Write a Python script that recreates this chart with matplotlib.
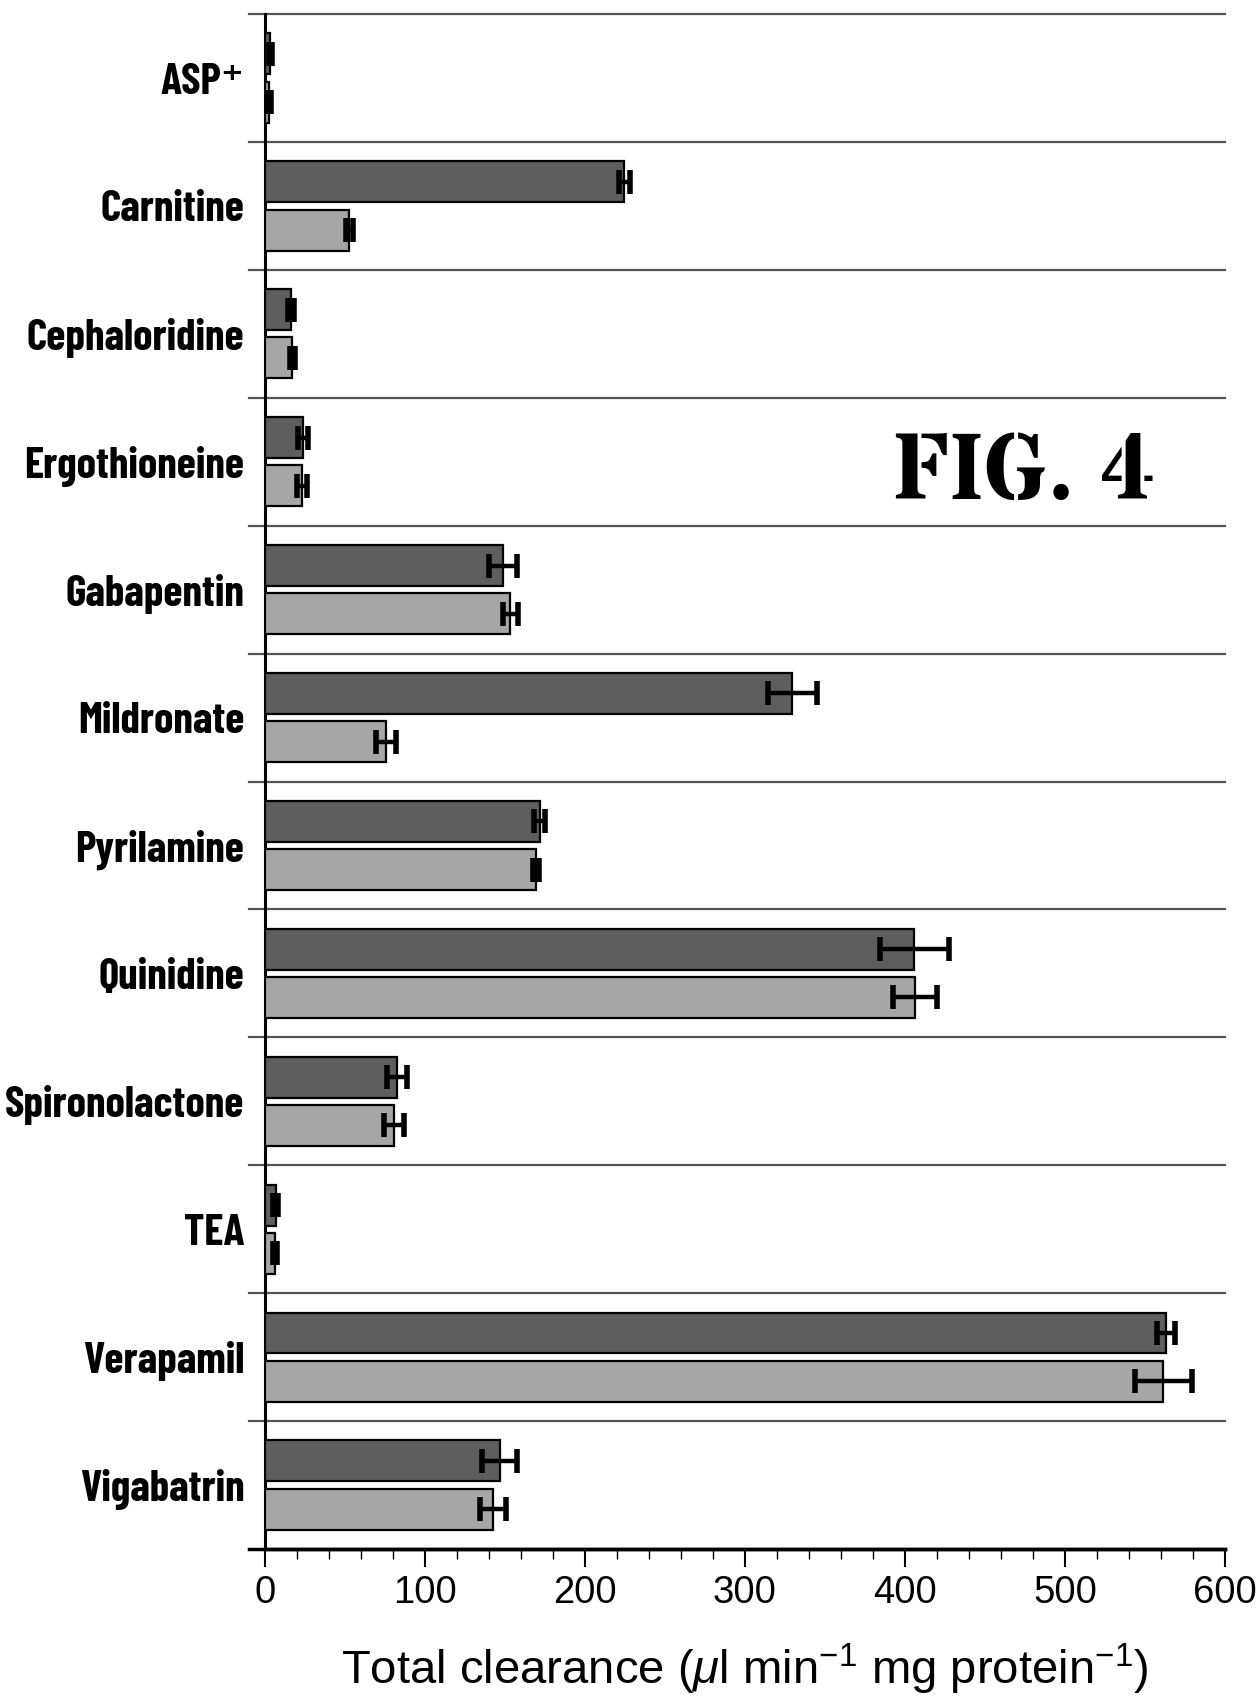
import matplotlib
matplotlib.use("Agg")
import matplotlib.pyplot as plt
import numpy as np

# data
compounds = ["ASP\u207a", "Carnitine", "Cephaloridine", "Ergothioneine", "Gabapentin",
             "Mildronate", "Pyrilamine", "Quinidine", "Spironolactone", "TEA",
             "Verapamil", "Vigabatrin"]
dark_vals = [3.4, 224.5, 16.2, 23.7, 148.5, 329.5, 171.6, 405.8, 82.5, 6.8, 563.3, 146.6]
dark_err = [1.2, 3.5, 2.0, 3.0, 8.8, 15.4, 3.3, 21.6, 6.0, 1.5, 5.5, 10.7]
light_vals = [2.5, 52.8, 17.0, 23.0, 153.4, 75.6, 169.4, 406.0, 80.5, 6.2, 561.4, 142.6]
light_err = [1.0, 2.0, 1.5, 3.0, 4.9, 6.0, 2.0, 13.8, 6.2, 1.2, 17.7, 8.0]
xticks = [0, 100, 200, 300, 400, 500, 600]

plt.rcParams["font.family"] = ["Liberation Sans", "DejaVu Sans"]
plt.rcParams["mathtext.fontset"] = "custom"
plt.rcParams["mathtext.rm"] = "Liberation Sans"
plt.rcParams["mathtext.it"] = "Liberation Sans:italic"
plt.rcParams["mathtext.bf"] = "Liberation Sans:bold"

fig = plt.figure(figsize=(12.56, 16.96), dpi=100)
ax = fig.add_axes([0.211, 0.0867, 0.7643, 0.905])

y = np.arange(len(compounds))
h = 0.32
off = 0.1885

ax.barh(y - off, dark_vals, height=h, color="#5e5e5e", edgecolor="black", linewidth=1.6, zorder=3)
ax.barh(y + off, light_vals, height=h, color="#a6a6a6", edgecolor="black", linewidth=1.6, zorder=3)
ax.errorbar(dark_vals, y - off, xerr=dark_err, fmt="none", ecolor="black",
            elinewidth=3.2, capsize=8.5, capthick=4, zorder=4)
ax.errorbar(light_vals, y + off, xerr=light_err, fmt="none", ecolor="black",
            elinewidth=3.2, capsize=8.5, capthick=4, zorder=4)

# group separators, sticking out a bit left of the axis
ext = -16 / 960
for b in np.arange(-0.5, len(compounds) - 0.5, 1.0):
    ax.axhline(b, xmin=ext, xmax=1, color="#555555", linewidth=1.6, clip_on=False, zorder=2)
ax.axhline(len(compounds) - 0.5, xmin=ext, xmax=1, color="black", linewidth=2.5, clip_on=False, zorder=5)

ax.set_xlim(0, 600)
ax.set_ylim(len(compounds) - 0.5, -0.5)

ax.set_xticks(xticks)
ax.set_xticks(np.arange(0, 601, 20), minor=True)
ax.tick_params(axis="x", which="major", length=13, width=1.5, labelsize=27.5, pad=6, direction="out")
ax.tick_params(axis="x", which="minor", length=7, width=1.0, direction="out")

ax.set_yticks(y)
ax.set_yticklabels(compounds, family=["Barlow Condensed", "DejaVu Sans"], fontweight="bold", fontsize=31.5)
ax.tick_params(axis="y", length=0, pad=15)

for s in ["top", "right"]:
    ax.spines[s].set_visible(False)
ax.spines["left"].set_linewidth(2.2)
ax.spines["bottom"].set_linewidth(2.5)

ax.set_xlabel(r"Total clearance ($\mu$l min$^{\mathrm{-1}}$ mg protein$^{\mathrm{-1}}$)",
              fontsize=34, labelpad=22)

ax.text(0.789, 0.700, "FIG. 4", transform=ax.transAxes, ha="center", va="center",
        family=["Stardos Stencil", "Liberation Serif"], fontweight="bold", fontsize=67)

fig.savefig("out.png", dpi=100)
